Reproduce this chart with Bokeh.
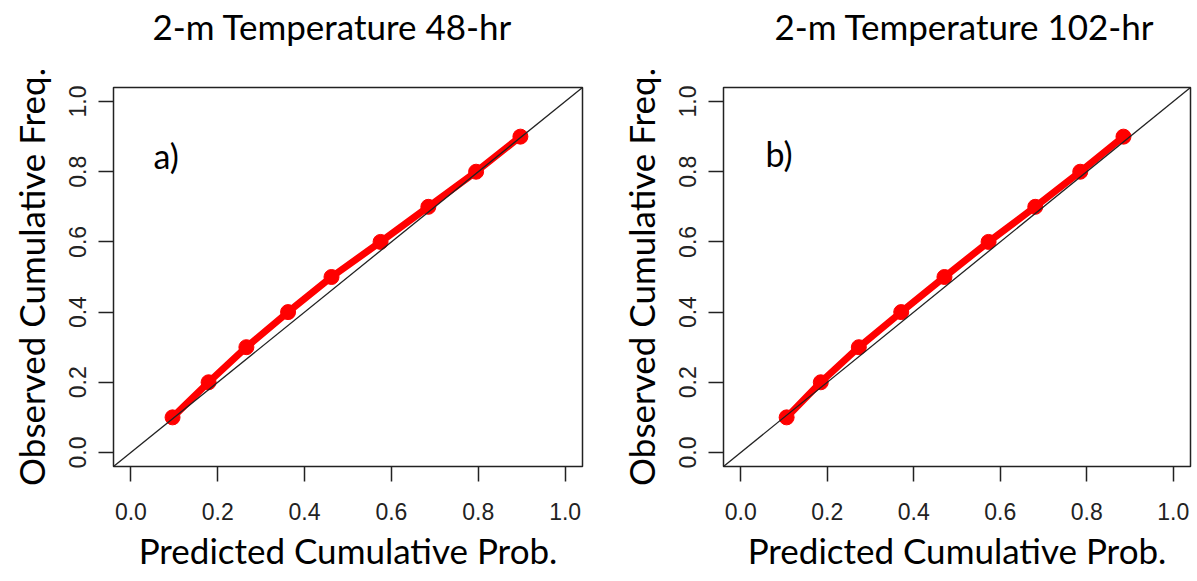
from math import pi
from bokeh.plotting import figure
from bokeh.models import (Range1d, FixedTicker, Label, Slope, PrintfTickFormatter,
                          Title)
from bokeh.layouts import row
from bokeh.embed import file_html
from bokeh.resources import INLINE

# ---- data ----
tick_values = [0.0, 0.2, 0.4, 0.6, 0.8, 1.0]
observed_freq = [0.1, 0.2, 0.3, 0.4, 0.5, 0.6, 0.7, 0.8, 0.9]
predicted_48hr = [0.096, 0.179, 0.266, 0.362, 0.462, 0.575, 0.685, 0.795, 0.897]
predicted_102hr = [0.106, 0.185, 0.273, 0.371, 0.471, 0.573, 0.681, 0.785, 0.885]
panel_titles = ["2-m Temperature 48-hr", "2-m Temperature 102-hr"]
panel_tags = ["a)", "b)"]
x_title = "Predicted Cumulative Prob."
y_title = "Observed Cumulative Freq."

LO, HI = -0.04, 1.04
TOP_BORDER, FRAME_H, BOTTOM_BORDER = 87, 379, 115
FIG_H = TOP_BORDER + FRAME_H + BOTTOM_BORDER
TEXT_FONT = "Lato"
TITLE_GAP = 41  # space between title text bottom and frame top


def make_panel(pred, title, tag, fig_left, border_left, frame_w, border_right,
               title_left, tag_left, tag_base):
    frame_left = fig_left + border_left  # page px

    def dx(px):
        return LO + (px - frame_left) / frame_w * (HI - LO)

    def dy(py):
        return HI - (py - TOP_BORDER) / FRAME_H * (HI - LO)

    p = figure(width=border_left + frame_w + border_right, height=FIG_H,
               x_range=Range1d(LO, HI), y_range=Range1d(LO, HI),
               title=None, output_backend="svg", toolbar_location=None,
               min_border_left=border_left, min_border_right=border_right,
               min_border_top=TOP_BORDER, min_border_bottom=BOTTOM_BORDER,
               background_fill_color="white", border_fill_color="white")
    p.grid.visible = False
    p.outline_line_color = "#222222"
    p.outline_line_width = 1.5

    xax = p.below[0]
    yax = p.left[0]
    for ax in (xax, yax):
        ax.ticker = FixedTicker(ticks=tick_values)
        ax.formatter = PrintfTickFormatter(format="%.1f")
        ax.axis_line_color = None
        ax.major_tick_out = 15
        ax.major_tick_in = 0
        ax.minor_tick_line_color = None
        ax.major_tick_line_color = "#222222"
        ax.major_tick_line_width = 1.5
        ax.major_label_text_font = "Liberation Sans"
        ax.major_label_text_font_size = "23px"
        ax.major_label_text_color = "#222222"
        ax.axis_label_text_font = TEXT_FONT
        ax.axis_label_text_font_size = "35px"
        ax.axis_label_text_font_style = "normal"
        ax.axis_label_text_color = "black"
    xax.axis_label = x_title
    yax.axis_label = y_title
    xax.major_label_standoff = 21
    yax.major_label_standoff = 12
    xax.axis_label_standoff = 6
    yax.axis_label_standoff = 15
    yax.major_label_orientation = "vertical"

    # blank spacer panel between frame and title (size = 2 + text height + standoff)
    p.add_layout(Title(text=" ", text_font=TEXT_FONT, text_font_size="10px",
                       standoff=TITLE_GAP - 2 - 12), "above")
    # panel title
    p.add_layout(Title(text=title, align="left", offset=title_left - frame_left,
                       text_font=TEXT_FONT, text_font_size="35px",
                       text_font_style="normal", text_color="black",
                       standoff=0, vertical_align="bottom"), "above")

    # data line and points
    p.line(pred, observed_freq, line_color="#ff0000", line_width=7)
    p.scatter(pred, observed_freq, size=15, fill_color="#ff0000",
              line_color="#ff0000")
    # 1:1 reference line
    p.add_layout(Slope(gradient=1, y_intercept=0, line_color="#222222",
                       line_width=1.3))

    # panel tag inside the frame
    p.add_layout(Label(x=dx(tag_left), y=dy(tag_base), text=tag,
                       text_font=TEXT_FONT, text_font_size="34px",
                       text_align="left", text_baseline="alphabetic",
                       text_color="black"))
    return p


left = make_panel(predicted_48hr, panel_titles[0], panel_tags[0],
                  fig_left=0, border_left=113, frame_w=469, border_right=26,
                  title_left=152, tag_left=153, tag_base=155)
right = make_panel(predicted_102hr, panel_titles[1], panel_tags[1],
                   fig_left=608, border_left=115, frame_w=467, border_right=7,
                   title_left=774, tag_left=765, tag_base=153)

layout = row(left, right)
open("out.html", "w").write(file_html(layout, INLINE))
